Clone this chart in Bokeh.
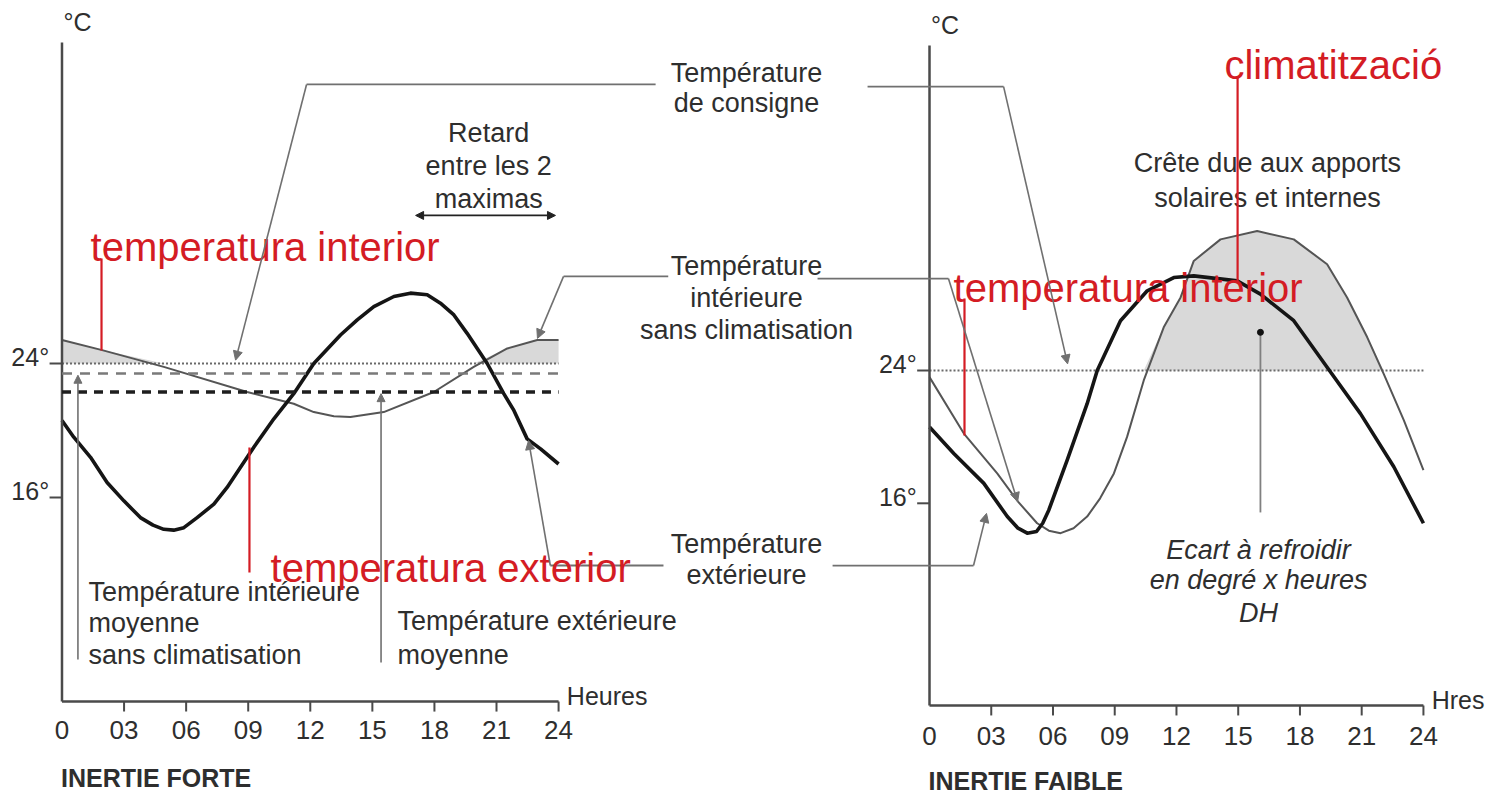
from bokeh.plotting import figure
from bokeh.models import Range1d, Arrow, NormalHead
from bokeh.core.properties import value
from bokeh.embed import file_html
from bokeh.resources import INLINE
import numpy as np

# ---------------- data ----------------
SETPOINT = 24.0
x_ticks = [0, 3, 6, 9, 12, 15, 18, 21, 24]
x_tick_labels = ["0", "03", "06", "09", "12", "15", "18", "21", "24"]
y_ticks = [16, 24]
y_tick_labels = ["16°", "24°"]

# Inertie forte (left)
hours_out_L = [0, 0.57, 1.38, 2.18, 2.99, 3.79, 4.4, 4.92, 5.4, 5.89, 6.53, 7.34, 7.98, 9.27, 10.24, 11.2,
               12.17, 13.46, 14.27, 15.07, 16.04, 16.84, 17.65, 18.29, 18.94, 19.58, 20.55,
               21.35, 21.84, 22.48, 23.13, 24]
temp_out_L = [20.6, 19.6, 18.4, 16.9, 15.8, 14.8, 14.35, 14.1, 14.05, 14.2, 14.8, 15.6, 16.6, 19.0, 20.7, 22.2,
              24.0, 25.7, 26.6, 27.4, 28.0, 28.2, 28.1, 27.6, 26.9, 25.8, 24.0,
              22.2, 21.2, 19.5, 18.9, 18.0]
hours_in_L = [0, 1.94, 4.92, 8.95, 11.2, 12.17, 13.14, 13.94, 15.55, 17.97, 19.9, 21.52, 22.97, 24]
temp_in_L = [25.4, 24.8, 23.8, 22.3, 21.6, 21.1, 20.85, 20.8, 21.1, 22.3, 23.8, 24.9, 25.4, 25.4]
mean_in_L = 23.4
mean_out_L = 22.3

# Inertie faible (right)
hours_out_R = [0, 1.18, 2.64, 3.78, 4.3, 4.75, 5.2, 5.5, 5.8, 6.69, 7.66, 8.15, 9.28, 10.58, 11.87, 12.84,
               14.95, 16.08, 17.7, 19.32, 20.94, 22.56, 24]
temp_out_R = [20.6, 19.0, 17.2, 15.2, 14.5, 14.2, 14.3, 14.8, 15.6, 18.6, 22.0, 24.0, 27.0, 28.8, 29.6, 29.7,
              29.4, 28.6, 27.0, 24.2, 21.4, 18.2, 14.8]
hours_in_R = [0, 1.67, 3.29, 4.3, 5.23, 5.8, 6.37, 7.0, 7.66, 8.29, 8.96, 9.6, 10.41, 11.38, 12.2, 12.84,
              14.14, 15.92, 17.7, 19.32, 20.29, 21.27, 22.07, 23.05, 24]
temp_in_R = [23.6, 20.2, 17.8, 16.1, 14.8, 14.35, 14.2, 14.5, 15.2, 16.3, 17.8, 20.0, 23.4, 26.6, 28.4, 30.6,
             31.9, 32.4, 31.9, 30.4, 28.4, 26.0, 23.8, 21.0, 18.0]
dh_point = (16.08, 26.3)

# ---------------- styles ----------------
FONT = value("Liberation Sans")
TXT = "#2e2e2e"
AX = "#4a4a4a"
LEAD = "#707070"
RED = "#d41c24"
SHADE = "#d9d9d9"
FS = "27px"

W, H = 1490, 795
p = figure(width=W, height=H, output_backend="svg", toolbar_location=None,
           x_range=Range1d(-2.972, 69.04), y_range=Range1d(-1.791, 45.672),
           x_axis_location=None, y_axis_location=None, min_border=0,
           outline_line_color=None, background_fill_color="white")
p.extra_x_ranges = {"r": Range1d(-45.141, 27.259)}
p.extra_y_ranges = {"r": Range1d(-1.602, 46.289)}
p.xgrid.visible = False
p.ygrid.visible = False


def R(kw, right):
    if right:
        kw["x_range_name"] = "r"
        kw["y_range_name"] = "r"
    return kw


def txt(xs, ys, texts, size=FS, align="center", baseline="middle", color=TXT,
        style="normal", right=False):
    p.text(**R(dict(x=xs, y=ys, text=texts, text_font=FONT, text_font_size=size,
                    text_align=align, text_baseline=baseline, text_color=color,
                    text_font_style=style), right))


def arrow(x0, y0, x1, y1, color=LEAD, width=1.6, size=9, both=False, right=False):
    head = NormalHead(size=size, fill_color=color, line_color=color)
    kw = dict(end=head, x_start=x0, y_start=y0, x_end=x1, y_end=y1,
              line_color=color, line_width=width)
    if both:
        kw["start"] = NormalHead(size=size, fill_color=color, line_color=color)
    p.add_layout(Arrow(**R(kw, right)))


def panel(right, hours_in, temp_in, hours_out, temp_out, axis_y, axis_top, label_y, xlabel, title):
    n = len(hours_in)
    # shaded excess above setpoint
    p.varea(**R(dict(x=hours_in, y1=[SETPOINT] * n,
                     y2=list(np.maximum(np.array(temp_in), SETPOINT)),
                     fill_color=SHADE, fill_alpha=1.0), right))
    # setpoint dotted line
    p.line(**R(dict(x=[0, 24], y=[SETPOINT, SETPOINT], line_color="#6a6a6a",
                    line_width=2, line_dash="2 2"), right))
    # curves
    p.line(**R(dict(x=hours_in, y=temp_in, line_color="#555555", line_width=2,
                    line_join="round"), right))
    p.line(**R(dict(x=hours_out, y=temp_out, line_color="#151515", line_width=3.6,
                    line_join="round"), right))
    # axes
    p.line(**R(dict(x=[0, 0], y=[axis_y, axis_top], line_color=AX, line_width=2.5), right))
    p.line(**R(dict(x=[0, 24], y=[axis_y, axis_y], line_color=AX, line_width=2.5), right))
    p.segment(**R(dict(x0=x_ticks[1:], y0=[axis_y] * (len(x_ticks) - 1), x1=x_ticks[1:],
                       y1=[axis_y - 0.6] * (len(x_ticks) - 1), line_color=AX, line_width=2), right))
    p.segment(**R(dict(x0=[-0.6] * len(y_ticks), y0=y_ticks, x1=[0] * len(y_ticks), y1=y_ticks,
                       line_color=AX, line_width=2), right))
    txt(x_ticks, [label_y] * len(x_ticks), x_tick_labels, size="26px", right=right)
    txt([-0.62] * len(y_ticks), [t + 0.38 for t in y_ticks], y_tick_labels, size="25px",
        align="right", right=right)
    txt([0.75], [axis_top + 1.25], ["°C"], size="25px", right=right)
    txt([24.4], [axis_y + 0.35], [xlabel], size="25px", align="left", right=right)
    txt([-0.05], [-0.74], [title], size="25px", align="left", style="bold", right=right)


panel(False, hours_in_L, temp_in_L, hours_out_L, temp_out_L, 3.82, 43.16, 2.09, "Heures", "INERTIE FORTE")
panel(True, hours_in_R, temp_in_R, hours_out_R, temp_out_R, 3.82, 43.58, 2.0, "Hres", "INERTIE FAIBLE")

# mean lines (left panel)
p.line(x=[0, 24], y=[mean_in_L, mean_in_L], line_color="#7a7a7a", line_width=2.6, line_dash="10 8")
p.line(x=[0, 24], y=[mean_out_L, mean_out_L], line_color="#1e1e1e", line_width=3.4, line_dash="9 7")

# ---------------- annotations, left panel ----------------
arrow(0.77, 6.33, 0.77, mean_in_L - 0.1, size=8)
arrow(15.42, 6.15, 15.42, mean_out_L - 0.1, size=8)
txt([1.28] * 3, [10.33, 8.48, 6.57], ["Température intérieure", "moyenne", "sans climatisation"],
    align="left")
txt([16.22] * 2, [8.6, 6.57], ["Température extérieure", "moyenne"], align="left")
txt([20.62] * 3, [37.79, 35.82, 33.85], ["Retard", "entre les 2", "maximas"])
arrow(17.09, 32.84, 23.85, 32.84, color="#222222", width=1.8, size=8, both=True)

# leader lines to the centre labels
p.line(x=[28.69, 11.82], y=[40.66, 40.66], line_color=LEAD, line_width=1.8)
arrow(11.82, 40.66, 8.39, 24.2)
p.line(x=[29.3, 24.24], y=[29.2, 29.2], line_color=LEAD, line_width=1.8)
arrow(24.24, 29.2, 22.98, 25.5)
p.line(x=[29.07, 23.6], y=[11.94, 11.94], line_color=LEAD, line_width=1.8)
arrow(23.6, 11.94, 22.55, 19.4)

# centre labels
txt([33.08] * 2, [41.37, 39.55], ["Température", "de consigne"])
txt([33.08] * 3, [29.85, 27.94, 26.03], ["Température", "intérieure", "sans climatisation"])
txt([33.08] * 2, [13.22, 11.4], ["Température", "extérieure"])

# ---------------- annotations, right panel ----------------
p.line(x=[-3.01, 3.6], y=[41.1, 41.1], line_color=LEAD, line_width=1.8, x_range_name="r", y_range_name="r")
arrow(3.6, 41.1, 6.71, 24.4, right=True)
p.line(x=[-5.44, 0.92], y=[29.54, 29.54], line_color=LEAD, line_width=1.8, x_range_name="r", y_range_name="r")
arrow(0.92, 29.54, 4.28, 16.1, right=True)
p.line(x=[-4.71, 2.14], y=[12.25, 12.25], line_color=LEAD, line_width=1.8, x_range_name="r", y_range_name="r")
arrow(2.14, 12.25, 2.77, 15.39, right=True)

txt([16.42] * 2, [36.47, 34.42], ["Crête due aux apports", "solaires et internes"], right=True)
p.line(x=[dh_point[0], dh_point[0]], y=[dh_point[1], 15.45], line_color="#808080", line_width=1.8,
       x_range_name="r", y_range_name="r")
p.scatter(x=[dh_point[0]], y=[dh_point[1]], size=6, color="#111111", x_range_name="r", y_range_name="r")
txt([15.99] * 3, [13.16, 11.35, 9.42], ["Ecart à refroidir", "en degré x heures", "DH"],
    style="italic", right=True)

# ---------------- red overlays ----------------
p.line(x=[1.91, 1.91], y=[30.27, 24.78], line_color=RED, line_width=2.2)
p.line(x=[9.06, 9.06], y=[18.99, 11.52], line_color=RED, line_width=2.2)
txt([1.38], [30.93], ["temperatura interior"], size="40px", align="left", baseline="alphabetic", color=RED)
txt([10.08], [11.82], ["temperatura exterior"], size="40px", align="left", baseline="alphabetic", color=RED)

p.line(x=[1.7, 1.7], y=[28.34, 20.08], line_color=RED, line_width=2.2, x_range_name="r", y_range_name="r")
p.line(x=[14.97, 14.97], y=[41.65, 29.24], line_color=RED, line_width=2.2, x_range_name="r", y_range_name="r")
txt([1.17], [29.0], ["temperatura interior"], size="40px", align="left", baseline="alphabetic",
    color=RED, right=True)
txt([14.33], [42.43], ["climatització"], size="40px", align="left", baseline="alphabetic",
    color=RED, right=True)

open("out.html", "w").write(file_html(p, INLINE))
